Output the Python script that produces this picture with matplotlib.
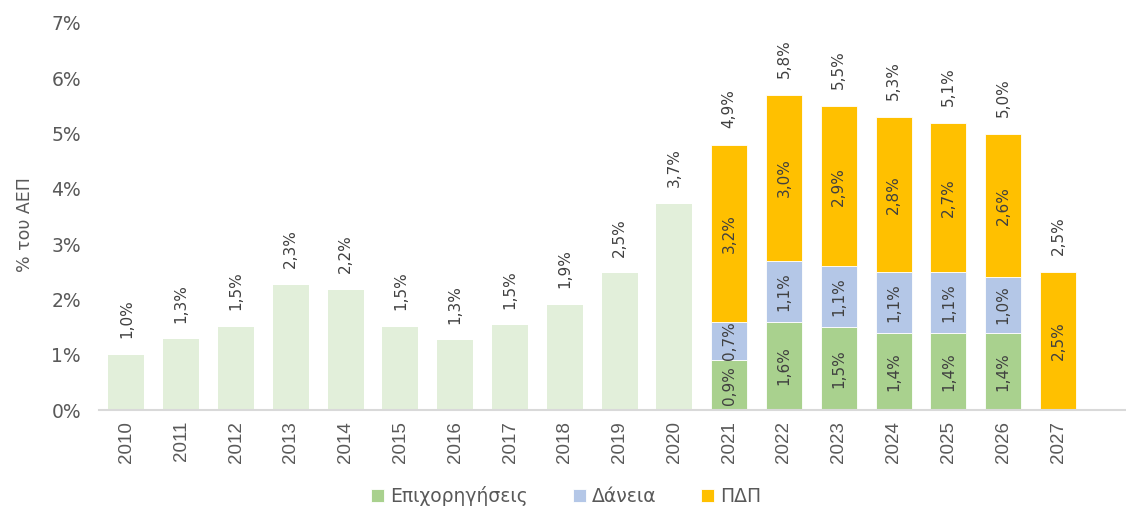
import numpy as np
import matplotlib.pyplot as plt

# % του ΑΕΠ
years = [str(y) for y in range(2010, 2028)]
hist_years = years[:11]
hist_vals = [1.0, 1.28, 1.5, 2.27, 2.17, 1.5, 1.26, 1.53, 1.9, 2.47, 3.73]
hist_labels = ['1,0%', '1,3%', '1,5%', '2,3%', '2,2%', '1,5%', '1,3%', '1,5%', '1,9%', '2,5%', '3,7%']

rrf_years = years[11:]
grants = [0.9, 1.6, 1.5, 1.4, 1.4, 1.4, 0.0]
loans = [0.7, 1.1, 1.1, 1.1, 1.1, 1.0, 0.0]
pdp = [3.2, 3.0, 2.9, 2.8, 2.7, 2.6, 2.5]
grants_lbl = ['0,9%', '1,6%', '1,5%', '1,4%', '1,4%', '1,4%', '']
loans_lbl = ['0,7%', '1,1%', '1,1%', '1,1%', '1,1%', '1,0%', '']
pdp_lbl = ['3,2%', '3,0%', '2,9%', '2,8%', '2,7%', '2,6%', '2,5%']
total_lbl = ['4,9%', '5,8%', '5,5%', '5,3%', '5,1%', '5,0%', '2,5%']

c_hist = '#E2EFDA'
c_grant = '#A9D18E'
c_loan = '#B4C7E7'
c_pdp = '#FFC000'
txt = '#404040'
tick_c = '#595959'

plt.rcParams['font.family'] = ['DejaVu Sans']

fig = plt.figure(figsize=(11.26, 5.09), dpi=100)
ax = fig.add_axes([99 / 1126, 1 - 410 / 509, 1 - 99 / 1126, (410 - 23) / 509])

x_all = np.arange(len(years))
xh = x_all[:11]
xr = x_all[11:]
w = 0.66
fs = 11

ax.bar(xh, hist_vals, w, color=c_hist)
for xi, v, l in zip(xh, hist_vals, hist_labels):
    ax.annotate(l, (xi, v), xytext=(0, 12), textcoords='offset points',
                rotation=90, ha='center', va='bottom', fontsize=fs, color=txt)

g = np.array(grants)
lo = np.array(loans)
p = np.array(pdp)
ax.bar(xr, g, w, color=c_grant, edgecolor='white', linewidth=0.6, label='Επιχορηγήσεις')
ax.bar(xr, lo, w, bottom=g, color=c_loan, edgecolor='white', linewidth=0.6, label='Δάνεια')
ax.bar(xr, p, w, bottom=g + lo, color=c_pdp, edgecolor='white', linewidth=0.6, label='ΠΔΠ')

for i, xi in enumerate(xr):
    if g[i] > 0:
        ax.text(xi, g[i] / 2, grants_lbl[i], rotation=90, ha='center', va='center',
                fontsize=fs, color=txt)
    if lo[i] > 0:
        ax.text(xi, g[i] + lo[i] / 2, loans_lbl[i], rotation=90, ha='center', va='center',
                fontsize=fs, color=txt)
    ax.text(xi, g[i] + lo[i] + p[i] / 2, pdp_lbl[i], rotation=90, ha='center', va='center',
            fontsize=fs, color=txt)
    top = g[i] + lo[i] + p[i]
    ax.annotate(total_lbl[i], (xi, top), xytext=(0, 12), textcoords='offset points',
                rotation=90, ha='center', va='bottom', fontsize=fs, color=txt)

ax.set_xlim(-0.5, -0.5 + (1126 - 99) / 54.8)
ax.set_ylim(0, 7)
ax.set_xticks(x_all)
ax.set_xticklabels(years, rotation=90, fontsize=13.5, color=tick_c, family='Liberation Sans')
ax.set_yticks(range(8))
ax.set_yticklabels([f'{i}%' for i in range(8)], fontsize=13.5, color=tick_c)
ax.tick_params(axis='both', length=0)
ax.tick_params(axis='x', pad=8)
ax.tick_params(axis='y', pad=13)

for s in ['top', 'right', 'left']:
    ax.spines[s].set_visible(False)
ax.spines['bottom'].set_color('#D9D9D9')
ax.spines['bottom'].set_linewidth(1.5)

fig.text(25 / 1126, 1 - 225 / 509, '% του ΑΕΠ', rotation=90, ha='center', va='center',
         fontsize=12.5, color=tick_c)

fig.legend(loc='center', bbox_to_anchor=(566 / 1126, 1 - 496 / 509), ncol=3, frameon=False,
           fontsize=13.5, handlelength=0.7, handleheight=0.7, handletextpad=0.3,
           columnspacing=2.4, labelcolor=tick_c)

fig.savefig('out.png', dpi=100)
